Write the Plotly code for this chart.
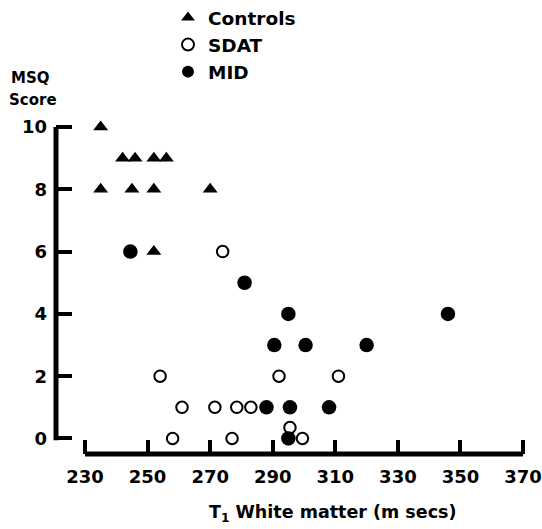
import plotly.graph_objects as go

# Data
controls_x = [235, 242, 246, 252, 256, 235, 245, 252, 270, 252]
controls_y = [10, 9, 9, 9, 9, 8, 8, 8, 8, 6]
sdat_x = [274, 254, 292, 311, 261, 271.5, 278.5, 283, 258, 277, 295.5, 299.5]
sdat_y = [6, 2, 2, 2, 1, 1, 1, 1, 0, 0, 0.35, 0]
mid_x = [244.5, 281, 295, 346, 290.5, 300.5, 320, 288, 295.5, 308, 295]
mid_y = [6, 5, 4, 4, 3, 3, 3, 1, 1, 1, 0]

x_ticks = [230, 250, 270, 290, 310, 330, 350, 370]
y_ticks = [0, 2, 4, 6, 8, 10]

W, H = 542, 529
ML, MR, MT, MB = 56, 12, 120, 75
FONT = "DejaVu Sans"

fig = go.Figure()
fig.add_trace(go.Scatter(x=controls_x, y=controls_y, mode="markers", name="Controls",
                         marker=dict(symbol="triangle-up", size=13, color="black")))
fig.add_trace(go.Scatter(x=sdat_x, y=sdat_y, mode="markers", name="SDAT",
                         marker=dict(symbol="circle", size=11.5, color="white",
                                     line=dict(color="black", width=2))))
fig.add_trace(go.Scatter(x=mid_x, y=mid_y, mode="markers", name="MID",
                         marker=dict(symbol="circle", size=14.5, color="black")))

PW, PH = W - ML - MR, H - MT - MB
def px(xp):
    return (xp - ML) / PW
def py(yp):
    return (H - MB - yp) / PH

fig.update_layout(
    width=W, height=H, autosize=False,
    margin=dict(l=ML, r=MR, t=MT, b=MB, pad=0, autoexpand=False),
    plot_bgcolor="white", paper_bgcolor="white",
    font=dict(family=FONT, color="black", size=17, weight="bold"),
    showlegend=True,
    legend=dict(x=px(168), y=py(-1),
                xanchor="left", yanchor="top", bgcolor="rgba(0,0,0,0)",
                borderwidth=0, itemsizing="constant",
                font=dict(family=FONT, size=18.5, color="black", weight="bold")),
    xaxis=dict(range=[220.73, 372.22], tickvals=x_ticks, ticktext=[str(v) for v in x_ticks],
               ticks="inside", ticklen=14, tickwidth=3.5, tickcolor="black",
               showgrid=False, zeroline=False, showline=False, automargin=False,
               ticklabelstandoff=10,
               tickfont=dict(family=FONT, size=18, color="black", weight="bold")),
    yaxis=dict(range=[-0.498, 10.225], tickvals=y_ticks, ticktext=[str(v) for v in y_ticks],
               ticks="inside", ticklen=16, tickwidth=3.5, tickcolor="black",
               showgrid=False, zeroline=False, showline=False, automargin=False,
               ticklabelstandoff=8,
               tickfont=dict(family=FONT, size=18, color="black", weight="bold")),
)

# axis lines (detached, as in the reference)
fig.add_shape(type="line", xref="x", yref="paper", x0=x_ticks[0], x1=x_ticks[-1], y0=0, y1=0,
              line=dict(color="black", width=5))
fig.add_shape(type="line", xref="paper", yref="y", x0=0, x1=0, y0=y_ticks[-1], y1=-0.06,
              line=dict(color="black", width=5))

fig.add_annotation(text="T<sub>1</sub> White matter (m secs)", xref="paper", yref="paper",
                   x=px(332), y=py(513), xanchor="center", yanchor="middle", showarrow=False,
                   font=dict(family=FONT, size=17.5, color="black", weight="bold"))
fig.add_annotation(text="MSQ", xref="paper", yref="paper", x=px(9), y=py(78),
                   xanchor="left", yanchor="middle", showarrow=False,
                   font=dict(family=FONT, size=15, color="black", weight="bold"))
fig.add_annotation(text="Score", xref="paper", yref="paper", x=px(7), y=py(100),
                   xanchor="left", yanchor="middle", showarrow=False,
                   font=dict(family=FONT, size=15, color="black", weight="bold"))

fig.write_html("out.html", config={"responsive": False, "displayModeBar": False},
               post_script="document.body.style.margin='0';document.body.style.overflow='hidden';")
